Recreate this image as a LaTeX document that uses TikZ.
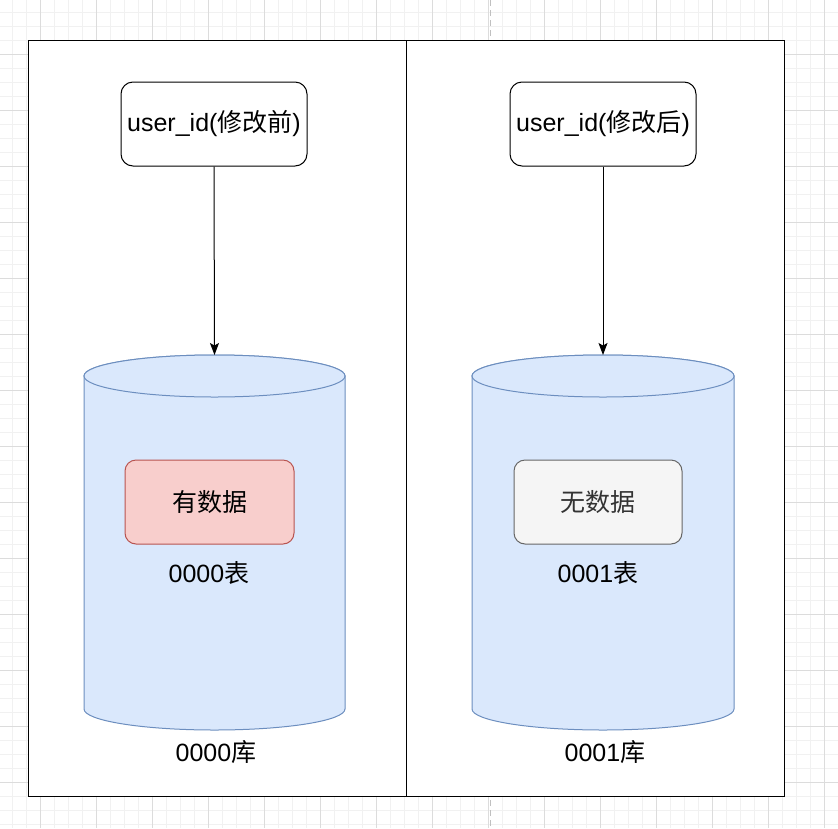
\documentclass[tikz,border=0pt]{standalone}
\usepackage{fontspec}
\setmainfont{Liberation Sans}
\newfontfamily\cjk{Noto Sans CJK SC}
\usetikzlibrary{arrows.meta}
\definecolor{gridminor}{HTML}{F1F1F1}
\definecolor{gridmajor}{HTML}{DCDCDC}
\definecolor{pagebreak}{HTML}{C0C0C0}
\definecolor{cylfill}{HTML}{DAE8FC}
\definecolor{cylline}{HTML}{6C8EBF}
\definecolor{redfill}{HTML}{F8CECC}
\definecolor{redline}{HTML}{B85450}
\definecolor{grayfill}{HTML}{F5F5F5}
\definecolor{grayline}{HTML}{666666}
\definecolor{graytext}{HTML}{333333}
\tikzset{
  panel/.style={draw=black, line width=1.2pt, fill=white},
  userbox/.style={draw=black, line width=1pt, fill=white, rounded corners=12pt,
    minimum width=186pt, minimum height=84pt, inner sep=0pt, font=\fontsize{25}{29}\selectfont},
  hasdata/.style={draw=redline, line width=1pt, fill=redfill, rounded corners=11pt,
    minimum width=169pt, minimum height=84pt, inner sep=0pt, font=\fontsize{25}{29}\selectfont},
  nodata/.style={draw=grayline, line width=1pt, fill=grayfill, rounded corners=11pt,
    minimum width=168pt, minimum height=84pt, inner sep=0pt, text=graytext, font=\fontsize{25}{29}\selectfont},
  label/.style={inner sep=0pt, font=\fontsize{25}{29}\selectfont},
  cyl/.style={draw=cylline, line width=1pt, fill=cylfill},
  conn/.style={draw=black, line width=1pt, -{Stealth[length=12pt,width=9pt,inset=2.5pt]}},
}
\begin{document}
\begin{tikzpicture}[x=1pt,y=-1pt]
\useasboundingbox (0,0) rectangle (838,828);
% grid
\foreach \v in {12,26,...,838} {
  \draw[gridminor, line width=0.8pt] (\v,0) -- (\v,828);
  \draw[gridminor, line width=0.8pt] (0,\v) -- (838,\v);
}
\foreach \v in {40,96,...,838} \draw[gridmajor, line width=0.8pt] (\v,0) -- (\v,828);
\foreach \v in {54,110,...,828} \draw[gridmajor, line width=0.8pt] (0,\v) -- (838,\v);
\draw[pagebreak, line width=1.5pt, dash pattern=on 6pt off 4pt] (490.5,0) -- (490.5,828);
% panels
\node[panel, minimum width=378pt, minimum height=756pt, inner sep=0pt, anchor=north west] (panelL) at (28,40) {};
\node[panel, minimum width=378pt, minimum height=756pt, inner sep=0pt, anchor=north west] (panelR) at (406,40) {};
% user boxes
\node[userbox] (ubL) at (214,124) {user\_id({\cjk 修改前})};
\node[userbox] (ubR) at (603,124) {user\_id({\cjk 修改后})};
% cylinders
\path[cyl] (84,376) -- (84,709) arc[start angle=180, end angle=0, x radius=130.5, y radius=21] -- (345,376) arc[start angle=0, end angle=-180, x radius=130.5, y radius=21] -- cycle;
\draw[cyl] (214.5,376) ellipse[x radius=130.5, y radius=21];
\coordinate (cylL) at (214.5,355);
\path[cyl] (472,376) -- (472,709) arc[start angle=180, end angle=0, x radius=131, y radius=21] -- (734,376) arc[start angle=0, end angle=-180, x radius=131, y radius=21] -- cycle;
\draw[cyl] (603,376) ellipse[x radius=131, y radius=21];
\coordinate (cylR) at (603,355);
% inner boxes
\node[hasdata] (dataL) at (209.5,502) {\cjk 有数据};
\node[nodata] (dataR) at (598,502) {\cjk 无数据};
\node[label] (tblL) at (209,573) {0000{\cjk 表}};
\node[label] (tblR) at (598,573) {0001{\cjk 表}};
\node[label] (dbL) at (216,752) {0000{\cjk 库}};
\node[label] (dbR) at (605,752) {0001{\cjk 库}};
% connectors
\draw[conn] (ubL.south) -- (cylL);
\draw[conn] (ubR.south) -- (cylR);
\end{tikzpicture}
\end{document}
